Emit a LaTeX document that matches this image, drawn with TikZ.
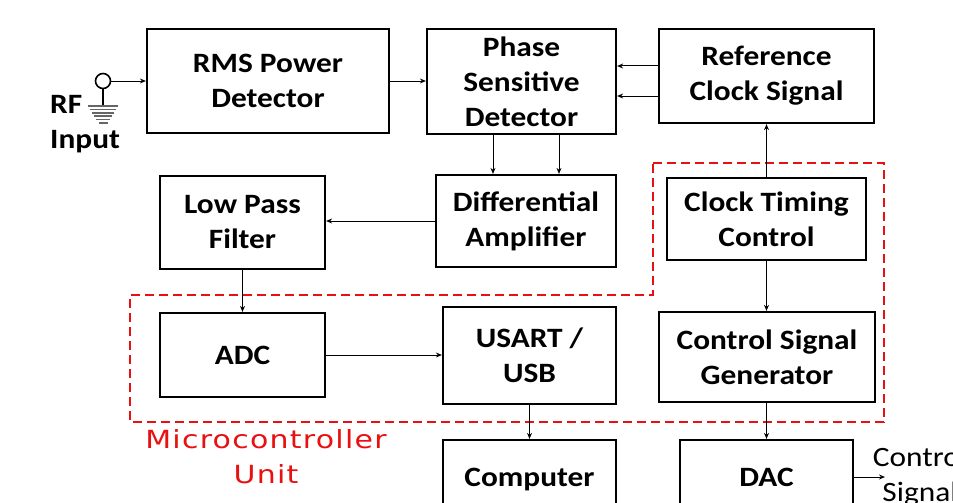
\documentclass[tikz,border=0pt]{standalone}
\usepackage{fontspec}
\setmainfont[FakeStretch=1.12]{Carlito}
\newfontfamily\redfont[FakeStretch=1.2,LetterSpace=5]{DejaVu Sans}
\usetikzlibrary{arrows.meta}
\definecolor{mcured}{RGB}{232,16,16}
\begin{document}
\begin{tikzpicture}[x=1pt,y=-1pt,
  blk/.style={draw,line width=2.2pt,align=center,inner sep=0pt,
    font=\fontsize{28}{35}\selectfont\bfseries},
  con/.style={line width=1pt,-{Stealth[length=6pt,width=5pt]}},
  lbl/.style={inner sep=0pt,font=\fontsize{28}{35}\selectfont\bfseries},
  mcu/.style={dash pattern=on 9pt off 5pt,line width=2.4pt,draw=mcured},
]
\useasboundingbox (0,0) rectangle (953,503);
\clip (0,0) rectangle (953,503);

% microcontroller region
\draw[mcu] (653,163) -- (884,163) -- (884,422) -- (130,422) -- (130,295) -- (653,295) -- cycle;
\node[text=mcured,align=center,inner sep=0pt,
  font=\redfont\fontsize{25}{35}\selectfont] (mcutxt) at (266,457) {Microcontroller\\Unit};

% blocks
\node[blk,minimum width=242,minimum height=104] (rms) at (268,81) {RMS Power\\Detector};
\node[blk,minimum width=189,minimum height=105] (psd) at (521.5,81.5) {Phase\\Sensitive\\Detector};
\node[blk,minimum width=215,minimum height=94] (rcs) at (766.5,76) {Reference\\Clock Signal};
\node[blk,minimum width=165,minimum height=93] (lpf) at (242.5,222.5) {Low Pass\\Filter};
\node[blk,minimum width=180,minimum height=92] (da) at (526,221) {Differential\\Amplifier};
\node[blk,minimum width=199,minimum height=82] (ctc) at (766.5,219) {Clock Timing\\Control};
\node[blk,minimum width=165,minimum height=84] (adc) at (242.5,355) {ADC};
\node[blk,minimum width=173,minimum height=97] (usart) at (529.5,355.5) {USART /\\USB};
\node[blk,minimum width=216,minimum height=90] (csg) at (767,357) {Control Signal\\Generator};
\node[blk,minimum width=173,minimum height=80,text height=18pt,text depth=6pt] (comp) at (529.5,480) {Computer};
\node[blk,minimum width=173,minimum height=80,text height=18pt,text depth=6pt] (dac) at (766.5,480) {DAC};

% RF input
\node[circle,draw,line width=1.6pt,minimum size=15pt,inner sep=0pt] (cin) at (103,81) {};
\coordinate (gnd) at (103,106);
\draw[line width=1.3pt] (cin.south) -- (gnd);
\foreach \dy/\hw in {0/15,3.4/13,6.8/11,10.2/9,13.6/7,17/4.5}
  \draw[line width=1.5pt,black!60] ([xshift=-\hw pt,yshift=-\dy pt]gnd) -- ([xshift=\hw pt,yshift=-\dy pt]gnd);
\node[lbl,anchor=base west] (rf) at (50,113) {RF};
\node[lbl,anchor=base west] (inp) at (50,148) {Input};

% helper coordinates
\coordinate (y66) at (0,66);
\coordinate (y96) at (0,96);
\coordinate (x493) at (493,0);
\coordinate (x559) at (559,0);
\coordinate (out) at (885,477);

% connectors
\draw[con] (cin.east) -- (rms.west);
\draw[con] (rms.east) -- (rms.east -| psd.west);
\draw[con] (rcs.west |- y66) -- (psd.east |- y66);
\draw[con] (rcs.west |- y96) -- (psd.east |- y96);
\draw[con] (psd.south -| x493) -- (da.north -| x493);
\draw[con] (psd.south -| x559) -- (da.north -| x559);
\draw[con] (da.west) -- (da.west -| lpf.east);
\draw[con] (lpf.south) -- (adc.north);
\draw[con] (adc.east) -- (adc.east -| usart.west);
\draw[con] (usart.south) -- (comp.north);
\draw[con] (ctc.north) -- (rcs.south);
\draw[con] (ctc.south) -- (ctc.south |- csg.north);
\draw[con] (csg.south -| dac.north) -- (dac.north);
\draw[con] (dac.east |- out) -- (out);
\node[align=center,inner sep=0pt,font=\fontsize{28}{35}\selectfont] (outl) at (920,477) {Control\\Signal};
\end{tikzpicture}
\end{document}
